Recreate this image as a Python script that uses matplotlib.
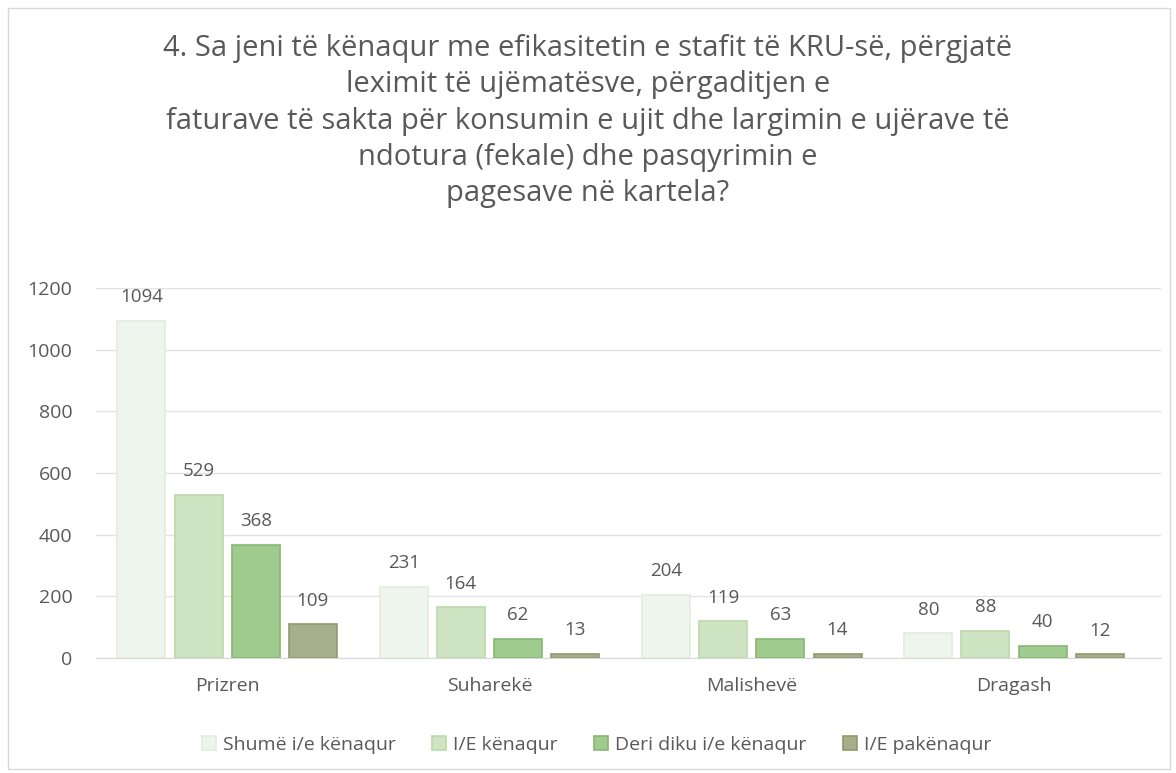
import numpy as np
import matplotlib.pyplot as plt
from matplotlib.patches import Rectangle

categories = ['Prizren', 'Suharekë', 'Malishevë', 'Dragash']
series_names = ['Shumë i/e kënaqur', 'I/E kënaqur', 'Deri diku i/e kënaqur', 'I/E pakënaqur']
shume = [1094, 231, 204, 80]
kenaqur = [529, 164, 119, 88]
deri_diku = [368, 62, 63, 40]
pakenaqur = [109, 13, 14, 12]
colors = ['#eef5ec', '#cfe4c2', '#9fcb8f', '#a7ae8c']
edges = ['#e2ecdc', '#bcd8a8', '#86b774', '#8f9a6e']

title = ("4. Sa jeni të kënaqur me efikasitetin e stafit të KRU-së, përgjatë\n"
         "leximit të ujëmatësve, përgaditjen e\n"
         "faturave të sakta për konsumin e ujit dhe largimin e ujërave të\n"
         "ndotura (fekale) dhe pasqyrimin e\n"
         "pagesave në kartela?")

plt.rcParams['font.family'] = ['Open Sans', 'DejaVu Sans']
fig = plt.figure(figsize=(11.76, 7.73), dpi=100)
fig.patches.append(Rectangle((0.007, 0.005), 0.988, 0.985, transform=fig.transFigure,
                             fill=False, edgecolor='#d9d9d9', linewidth=1))
ax = fig.add_axes([0.0816, 0.1488, 0.9056, 0.4787])

x = np.arange(len(categories))
w = 0.183
step = 0.218
all_series = [shume, kenaqur, deri_diku, pakenaqur]
for i, vals in enumerate(all_series):
    pos = x + (i - 1.5) * step
    ax.bar(pos, vals, width=w, color=colors[i], edgecolor=edges[i],
           linewidth=1.2, label=series_names[i], zorder=3)
    for p, v in zip(pos, vals):
        ax.annotate(str(v), (p, v), xytext=(0, 17), textcoords='offset points',
                    ha='center', va='center', fontsize=13.5, color='#595959',
                    annotation_clip=False)

ax.set_xlim(-0.5, 3.56)
ax.set_ylim(0, 1200)
ax.set_yticks(range(0, 1201, 200))
ax.set_xticks(x)
ax.set_xticklabels(categories)
ax.tick_params(axis='both', length=0, labelsize=14, labelcolor='#595959')
ax.tick_params(axis='y', pad=17)
ax.tick_params(axis='x', pad=14)
ax.grid(axis='y', color='#e3e3e3', linewidth=1, zorder=0)
for s in ['top', 'right', 'left']:
    ax.spines[s].set_visible(False)
ax.spines['bottom'].set_color('#d9d9d9')

fig.text(0.5, 1 - 34 / 773, title, ha='center', va='top', fontsize=21,
         color='#595959', linespacing=1.33)

ax.legend(loc='center', bbox_to_anchor=(0.47, -0.235), ncol=4, frameon=False,
          fontsize=14, labelcolor='#595959', handlelength=0.7, handleheight=0.7,
          handletextpad=0.35, columnspacing=1.9)

fig.savefig('out.png', dpi=100)
